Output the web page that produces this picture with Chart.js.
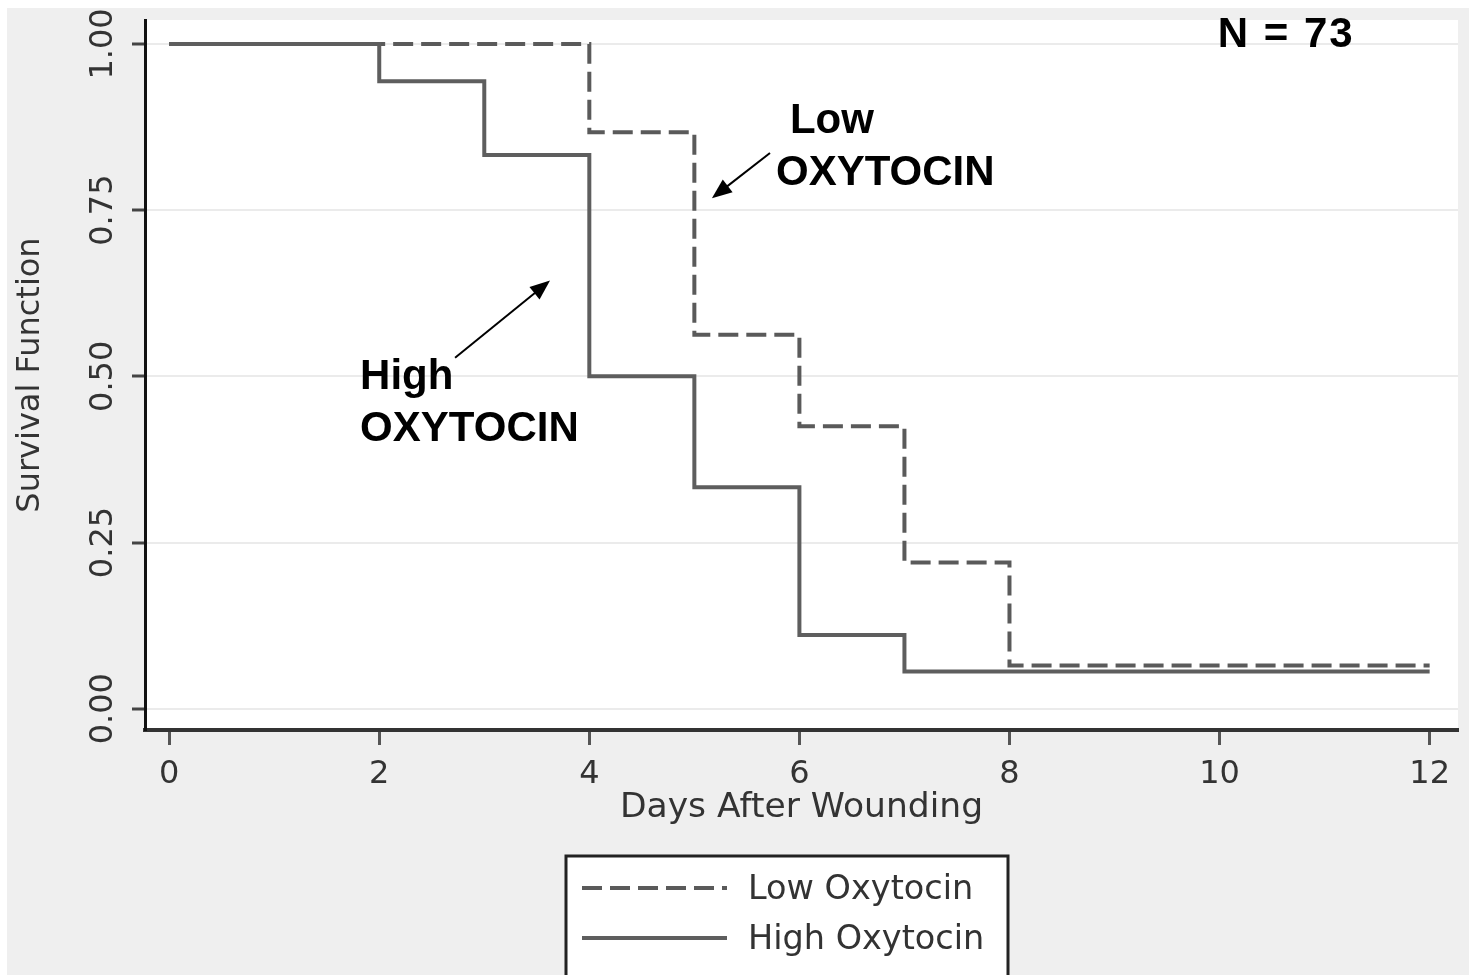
<!DOCTYPE html>
<html>
<head>
<meta charset="utf-8">
<script src="https://cdn.jsdelivr.net/npm/chart.js@4.4.1/dist/chart.umd.min.js"></script>
<style>
  html, body { margin: 0; padding: 0; background: #fff; }
  canvas { display: block; }
</style>
</head>
<body>
<canvas id="km" width="1469" height="975"></canvas>
<script>
// Kaplan-Meier estimates
const seriesNames = ['Low Oxytocin', 'High Oxytocin'];
const lowDays = [0, 4, 5, 6, 7, 8, 12];
const lowSurvival = [1.0, 0.867, 0.5625, 0.425, 0.22, 0.065, 0.065];
const highDays = [0, 2, 3, 4, 5, 6, 7, 12];
const highSurvival = [1.0, 0.944, 0.833, 0.5, 0.333, 0.111, 0.056, 0.056];
const xTicks = [0, 2, 4, 6, 8, 10, 12];
const yTicks = [0, 0.25, 0.5, 0.75, 1];

// callouts, in data units
const labels = [
    { text: 'Low', x: 5.91, y: 0.883 },
    { text: 'OXYTOCIN', x: 5.777, y: 0.805 },
    { text: 'High', x: 1.818, y: 0.498 },
    { text: 'OXYTOCIN', x: 1.818, y: 0.4195 },
    { text: 'N = 73', x: 9.983, y: 1.0135 }
];
const arrows = [
    { from: [5.72, 0.836], to: [5.167, 0.768] },
    { from: [2.722, 0.528], to: [3.626, 0.644] }
];

const toPoints = (xs, ys) => xs.map((x, i) => ({ x: x, y: ys[i] }));

const tickFont = { family: 'DejaVu Sans', size: 32 };
const textColor = '#333';

const backgroundPlugin = {
    id: 'background',
    beforeDraw(chart) {
        const { ctx, width, height, chartArea: a } = chart;
        ctx.save();
        ctx.fillStyle = '#fff';
        ctx.fillRect(0, 0, width, height);
        ctx.fillStyle = '#efefef';
        ctx.fillRect(7, 8, width - 7, height - 8);
        ctx.fillStyle = '#fff';
        ctx.fillRect(a.left, a.top, a.right - a.left, a.bottom - a.top);
        ctx.restore();
    }
};

function drawArrow(ctx, x1, y1, x2, y2) {
    const ang = Math.atan2(y2 - y1, x2 - x1);
    const len = 20, half = 8;
    ctx.beginPath();
    ctx.moveTo(x1, y1);
    ctx.lineTo(x2 - Math.cos(ang) * len * 0.8, y2 - Math.sin(ang) * len * 0.8);
    ctx.stroke();
    ctx.beginPath();
    ctx.moveTo(x2, y2);
    ctx.lineTo(x2 - Math.cos(ang) * len - Math.sin(ang) * half, y2 - Math.sin(ang) * len + Math.cos(ang) * half);
    ctx.lineTo(x2 - Math.cos(ang) * len + Math.sin(ang) * half, y2 - Math.sin(ang) * len - Math.cos(ang) * half);
    ctx.closePath();
    ctx.fill();
}

const calloutPlugin = {
    id: 'callouts',
    afterDatasetsDraw(chart) {
        const { ctx, scales: { x, y } } = chart;
        ctx.save();
        ctx.fillStyle = '#000';
        ctx.strokeStyle = '#000';
        ctx.lineWidth = 2;
        ctx.textBaseline = 'middle';
        ctx.textAlign = 'left';
        ctx.font = 'bold 42px "Liberation Sans"';
        labels.forEach(l => {
            ctx.letterSpacing = l.text.startsWith('N') ? '2px' : '0px';
            ctx.fillText(l.text, x.getPixelForValue(l.x), y.getPixelForValue(l.y));
        });
        ctx.letterSpacing = '0px';
        arrows.forEach(a => {
            drawArrow(ctx,
                x.getPixelForValue(a.from[0]), y.getPixelForValue(a.from[1]),
                x.getPixelForValue(a.to[0]), y.getPixelForValue(a.to[1]));
        });
        ctx.restore();
    }
};

// boxed legend under the axis title
const legendPlugin = {
    id: 'boxLegend',
    afterDraw(chart) {
        const ctx = chart.ctx;
        const bx = 566, by = 856, bw = 442, bh = 130;
        ctx.save();
        ctx.fillStyle = '#fff';
        ctx.fillRect(bx, by, bw, bh);
        ctx.strokeStyle = '#222';
        ctx.lineWidth = 3;
        ctx.strokeRect(bx, by, bw, bh);
        ctx.font = '33.5px "DejaVu Sans"';
        ctx.textBaseline = 'middle';
        ctx.fillStyle = textColor;
        chart.data.datasets.forEach((ds, i) => {
            const yy = 888 + i * 50;
            ctx.strokeStyle = ds.borderColor;
            ctx.lineWidth = ds.borderWidth;
            ctx.setLineDash(ds.borderDash || []);
            ctx.beginPath();
            ctx.moveTo(582, yy);
            ctx.lineTo(727, yy);
            ctx.stroke();
            ctx.setLineDash([]);
            ctx.fillText(ds.label, 748, yy + 2);
        });
        ctx.restore();
    }
};

new Chart(document.getElementById('km'), {
    type: 'line',
    data: {
        datasets: [{
            label: seriesNames[0],
            data: toPoints(lowDays, lowSurvival),
            stepped: true,
            borderColor: '#5a5a5a',
            borderWidth: 4,
            borderDash: [20, 8],
            pointRadius: 0,
            fill: false,
            order: 2
        }, {
            label: seriesNames[1],
            data: toPoints(highDays, highSurvival),
            stepped: true,
            borderColor: '#5e5e5e',
            borderWidth: 4,
            pointRadius: 0,
            fill: false,
            order: 1
        }]
    },
    options: {
        responsive: false,
        animation: false,
        layout: { padding: { top: 20, right: 11, left: 0, bottom: 145 } },
        plugins: { legend: { display: false }, tooltip: { enabled: false } },
        scales: {
            x: {
                type: 'linear',
                min: -0.23,
                max: 12.27,
                afterBuildTicks: (s) => { s.ticks = xTicks.map(v => ({ value: v })); },
                afterFit: (s) => { s.height = 100; },
                ticks: { font: tickFont, color: textColor, padding: 10, maxRotation: 0 },
                grid: { drawOnChartArea: false, tickLength: 15, tickColor: '#555', tickWidth: 3 },
                border: { color: '#333', width: 4 },
                title: { display: true, text: 'Days After Wounding', font: { family: 'DejaVu Sans', size: 34.5 }, color: textColor, padding: { top: 0, bottom: 1 } }
            },
            y: {
                type: 'linear',
                min: -0.032,
                max: 1.036,
                afterBuildTicks: (s) => { s.ticks = yTicks.map(v => ({ value: v })); },
                afterFit: (s) => { s.width = 145; },
                ticks: {
                    font: tickFont, color: textColor,
                    minRotation: 90, maxRotation: 90,
                    crossAlign: 'center', padding: -7,
                    callback: (v) => Number(v).toFixed(2)
                },
                grid: { color: '#ebebeb', lineWidth: 2, tickLength: 13, tickColor: '#444', tickWidth: 3 },
                border: { color: '#111', width: 3 },
                title: { display: true, text: 'Survival Function', font: { family: 'DejaVu Sans', size: 32 }, color: textColor, padding: { top: 11, bottom: 0 } }
            }
        }
    },
    plugins: [backgroundPlugin, calloutPlugin, legendPlugin]
});
</script>
</body>
</html>
